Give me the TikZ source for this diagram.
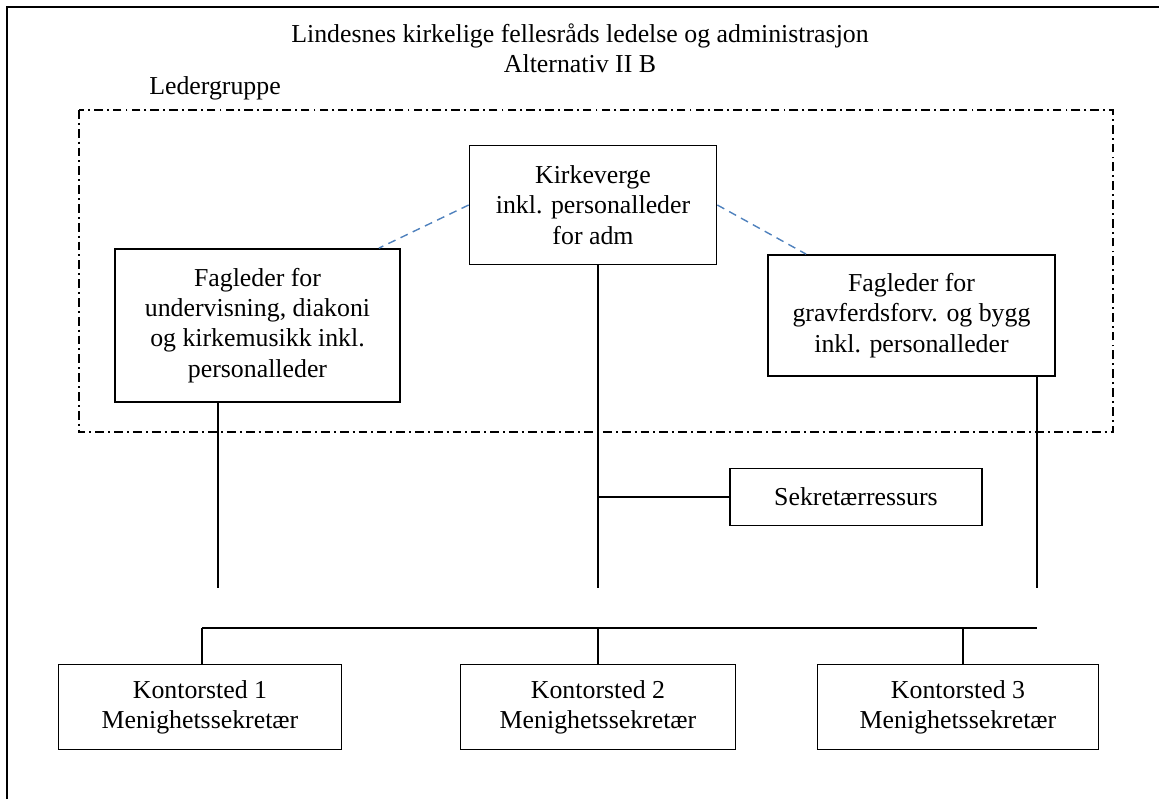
\documentclass[tikz,border=0pt]{standalone}
\usepackage{fontspec}
\setmainfont{Liberation Serif}
\usetikzlibrary{calc}
\usetikzlibrary{positioning}
\definecolor{lineblue}{RGB}{79,129,189}

\begin{document}
\begin{tikzpicture}[x=0.02cm,y=-0.02cm]
		\tikzstyle{Box} = [draw=black, line width=1pt, align=center, inner sep=0pt,
			font=\fontsize{14.7}{17.2}\selectfont]
		\tikzstyle{Plain} = [align=center, inner sep=0pt, font=\fontsize{14.7}{17.2}\selectfont]
		\tikzstyle{Line} = [black, line width=1pt]
		\tikzstyle{Group} = [black, line width=0.9pt, dash pattern=on 5pt off 2.3pt on 1.1pt off 2.3pt]
		\tikzstyle{Link} = [lineblue, line width=0.8pt, dash pattern=on 4.5pt off 3.2pt]

		\useasboundingbox (0,0) rectangle (1159,799);

		%Draw outer frame
		\draw[line width=1.2pt] (7,799) -- (7,7) -- (1159,7);

		%Title and group label
		\node[Plain](Title) at (580,48){Lindesnes kirkelige fellesråds ledelse og administrasjon\\Alternativ II B};
		\node[Plain](GroupLabel) at (215,88){Ledergruppe};

		%Draw leader group
		\draw[Group] (79,110) rectangle (1113,432);

		\node[Box, minimum width=4.94cm, minimum height=2.38cm](K) at (593,205){Kirkeverge\\inkl. personalleder\\for adm};
		\node[Box, minimum width=5.7cm, minimum height=3.06cm](FL) at (257.5,325.5){Fagleder for\\undervisning, diakoni\\og kirkemusikk inkl.\\personalleder};
		\node[Box, minimum width=5.74cm, minimum height=2.42cm](FR) at (911.5,315.5){Fagleder for\\gravferdsforv. og bygg\\inkl. personalleder};

		\draw[Link] (K.west) -- ($(FL.north east) + (-0.44cm,0)$);
		\draw[Link] (K.east) -- ($(FR.north west) + (0.78cm,0)$);

		%Secretary
		\node[Box, minimum width=5.04cm, minimum height=1.14cm](Sek) at (856,497){Sekretærressurs};

		%Offices
		\node[Box, minimum width=5.66cm, minimum height=1.7cm](O1) at (200,707){Kontorsted 1\\Menighetssekretær};
		\node[Box, minimum width=5.5cm, minimum height=1.7cm](O2) at (598,707){Kontorsted 2\\Menighetssekretær};
		\node[Box, minimum width=5.62cm, minimum height=1.7cm](O3) at (958,707){Kontorsted 3\\Menighetssekretær};

		%Vertical lines from leaders
		\coordinate (EndL) at (218,588);
		\coordinate (EndK) at (598,588);
		\coordinate (EndR) at (1037,588);
		\draw[Line] (FL.south -| EndL) -- (EndL);
		\draw[Line] (K.south -| EndK) -- (EndK);
		\draw[Line] (FR.south -| EndR) -- (EndR);
		\draw[Line] (Sek.west) -- (Sek.west -| EndK);

		%Bus to offices
		\coordinate (BusL) at (202,628);
		\coordinate (BusR) at (1037,628);
		\draw[Line] (BusL) -- (BusR);
		\draw[Line] (BusL) -- (O1.north -| BusL);
		\draw[Line] (BusL -| O2.north) -- (O2.north);
		\draw[Line] (963,628) -- (O3.north -| 963,0);
	\end{tikzpicture}
\end{document}
